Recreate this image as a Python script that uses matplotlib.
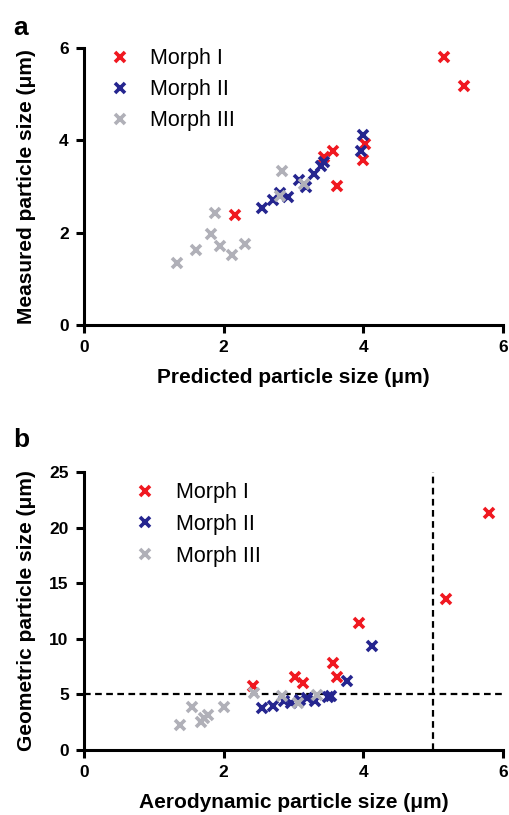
import matplotlib
matplotlib.use("Agg")
import matplotlib.pyplot as plt

plt.rcParams['font.family'] = ['Liberation Sans', 'DejaVu Sans']

RED = '#f01820'
BLUE = '#25258f'
GRAY = '#b0b0b8'

# Panel a: predicted vs measured
a_m1_x = [5.15, 5.44, 2.16, 3.56, 3.63, 3.44, 4.02, 3.99]
a_m1_y = [5.81, 5.18, 2.39, 3.76, 3.01, 3.64, 3.91, 3.57]
a_m2_x = [4.00, 3.97, 3.43, 3.39, 3.30, 3.08, 3.18, 2.92, 2.81, 2.70, 2.55]
a_m2_y = [4.11, 3.77, 3.53, 3.45, 3.28, 3.15, 2.99, 2.78, 2.85, 2.70, 2.54]
a_m3_x = [1.33, 1.61, 1.82, 1.88, 1.95, 2.12, 2.30, 2.84, 2.81, 3.15]
a_m3_y = [1.34, 1.62, 1.98, 2.42, 1.71, 1.51, 1.75, 3.33, 2.80, 3.06]

# Panel b: aerodynamic vs geometric
b_m1_x = [5.80, 5.19, 3.94, 3.57, 3.62, 3.02, 3.13, 2.42]
b_m1_y = [21.3, 13.6, 11.4, 7.8, 6.6, 6.6, 6.0, 5.8]
b_m2_x = [4.12, 3.77, 3.53, 3.49, 3.31, 3.19, 3.10, 2.96, 2.86, 2.71, 2.55]
b_m2_y = [9.35, 6.2, 4.86, 4.8, 4.4, 4.65, 4.5, 4.26, 4.44, 3.96, 3.75]
b_m3_x = [1.37, 1.55, 1.67, 1.72, 1.78, 2.01, 2.43, 2.83, 3.07, 3.34]
b_m3_y = [2.25, 3.9, 2.55, 2.85, 3.15, 3.84, 5.1, 4.86, 4.2, 4.95]

labels = ['Morph I', 'Morph II', 'Morph III']
colors = [RED, BLUE, GRAY]

W, H = 509, 815
fig = plt.figure(figsize=(W / 100, H / 100), dpi=100)


def px_axes(left, top, right, bottom):
    return fig.add_axes([left / W, 1 - bottom / H, (right - left) / W, (bottom - top) / H])


def style(ax):
    for s in ['top', 'right']:
        ax.spines[s].set_visible(False)
    for s in ['left', 'bottom']:
        ax.spines[s].set_linewidth(2.2)
    ax.tick_params(direction='out', length=6, width=2.2, labelsize=12.5, pad=5)
    for t in ax.get_xticklabels() + ax.get_yticklabels():
        t.set_fontweight('bold')


def scatter_sets(ax, data):
    for (x, y), c, lab in zip(data, colors, labels):
        ax.plot(x, y, linestyle='none', marker='x', markersize=7.5, mew=2.6,
                color=c, label=lab, clip_on=False, zorder=3)


def labels_at(ax, top, bottom, xl, yl):
    h = bottom - top
    ax.set_xlabel(xl, fontsize=15, fontweight='bold')
    ax.set_ylabel(yl, fontsize=15, fontweight='bold')
    ax.xaxis.set_label_coords(0.5, -43 / h)
    ax.yaxis.set_label_coords(-(84 - 36) / 419, 0.5)


ax1 = px_axes(84, 48, 503, 325)
scatter_sets(ax1, [(a_m1_x, a_m1_y), (a_m2_x, a_m2_y), (a_m3_x, a_m3_y)])
ax1.set_xlim(0, 6)
ax1.set_ylim(0, 6)
ax1.set_xticks([0, 2, 4, 6])
ax1.set_yticks([0, 2, 4, 6])
style(ax1)
labels_at(ax1, 48, 325, 'Predicted particle size (μm)', 'Measured particle size (μm)')
ax1.legend(loc='upper left', bbox_to_anchor=(0.03, 1.046), frameon=False,
           fontsize=15.5, handlelength=1.0, handletextpad=0.9, labelspacing=0.47,
           borderaxespad=0.2)
fig.text(13 / W, 1 - 28 / H, 'a', fontsize=19, fontweight='bold', va='center', ha='left')

ax2 = px_axes(84, 472, 503, 750)
ax2.axhline(5, color='black', linestyle=(0, (3, 2)), linewidth=1.6, zorder=1)
ax2.axvline(5, color='black', linestyle=(0, (3, 2)), linewidth=1.6, zorder=1)
scatter_sets(ax2, [(b_m1_x, b_m1_y), (b_m2_x, b_m2_y), (b_m3_x, b_m3_y)])
ax2.set_xlim(0, 6)
ax2.set_ylim(0, 25)
ax2.set_xticks([0, 2, 4, 6])
ax2.set_yticks([0, 5, 10, 15, 20, 25])
style(ax2)
labels_at(ax2, 472, 750, 'Aerodynamic particle size (μm)', 'Geometric particle size (μm)')
ax2.legend(loc='upper left', bbox_to_anchor=(0.09, 1.01), frameon=False,
           fontsize=15.5, handlelength=1.0, handletextpad=0.9, labelspacing=0.5,
           borderaxespad=0.2)
fig.text(13 / W, 1 - 440 / H, 'b', fontsize=19, fontweight='bold', va='center', ha='left')

fig.savefig('out.png', dpi=100)
